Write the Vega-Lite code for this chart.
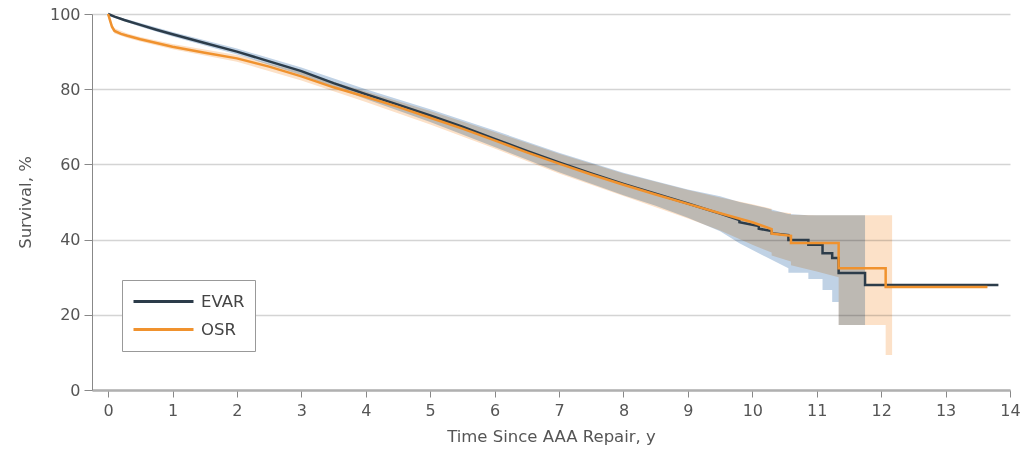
{
  "$schema": "https://vega.github.io/schema/vega-lite/v6.json",
  "width": 918,
  "height": 376,
  "autosize": "none",
  "padding": {"left": 92, "top": 14, "right": 12, "bottom": 62},
  "background": "white",
  "config": {
    "view": {"stroke": null},
    "font": "DejaVu Sans, sans-serif"
  },
  "datasets": {
    "curves": [
      {"group": "EVAR", "t": 0, "v": 100},
      {"group": "EVAR", "t": 0.1, "v": 99.3},
      {"group": "EVAR", "t": 0.25, "v": 98.4},
      {"group": "EVAR", "t": 0.5, "v": 97.1},
      {"group": "EVAR", "t": 0.75, "v": 95.8},
      {"group": "EVAR", "t": 1, "v": 94.6},
      {"group": "EVAR", "t": 1.5, "v": 92.3},
      {"group": "EVAR", "t": 2, "v": 90.0},
      {"group": "EVAR", "t": 2.5, "v": 87.4},
      {"group": "EVAR", "t": 3, "v": 84.8},
      {"group": "EVAR", "t": 3.5, "v": 81.6},
      {"group": "EVAR", "t": 4, "v": 78.7},
      {"group": "EVAR", "t": 4.5, "v": 75.9},
      {"group": "EVAR", "t": 5, "v": 73.0},
      {"group": "EVAR", "t": 5.5, "v": 70.0},
      {"group": "EVAR", "t": 6, "v": 66.8},
      {"group": "EVAR", "t": 6.5, "v": 63.6},
      {"group": "EVAR", "t": 7, "v": 60.5},
      {"group": "EVAR", "t": 7.5, "v": 57.6},
      {"group": "EVAR", "t": 8, "v": 54.8},
      {"group": "EVAR", "t": 8.5, "v": 52.2},
      {"group": "EVAR", "t": 9, "v": 49.6},
      {"group": "EVAR", "t": 9.5, "v": 46.9},
      {"group": "EVAR", "t": 9.8, "v": 45.2},
      {"group": "EVAR", "t": 9.8, "v": 44.6},
      {"group": "EVAR", "t": 10.1, "v": 43.6},
      {"group": "EVAR", "t": 10.1, "v": 42.9},
      {"group": "EVAR", "t": 10.3, "v": 42.3},
      {"group": "EVAR", "t": 10.3, "v": 41.7},
      {"group": "EVAR", "t": 10.56, "v": 41.2},
      {"group": "EVAR", "t": 10.56, "v": 39.9},
      {"group": "EVAR", "t": 10.87, "v": 39.9},
      {"group": "EVAR", "t": 10.87, "v": 38.6},
      {"group": "EVAR", "t": 11.09, "v": 38.6},
      {"group": "EVAR", "t": 11.09, "v": 36.4},
      {"group": "EVAR", "t": 11.24, "v": 36.4},
      {"group": "EVAR", "t": 11.24, "v": 35.1},
      {"group": "EVAR", "t": 11.34, "v": 35.1},
      {"group": "EVAR", "t": 11.34, "v": 31.1},
      {"group": "EVAR", "t": 11.75, "v": 31.1},
      {"group": "EVAR", "t": 11.75, "v": 27.9},
      {"group": "EVAR", "t": 13.82, "v": 27.9},
      {"group": "OSR", "t": 0, "v": 100},
      {"group": "OSR", "t": 0.03, "v": 98.3},
      {"group": "OSR", "t": 0.06, "v": 96.6},
      {"group": "OSR", "t": 0.1, "v": 95.5},
      {"group": "OSR", "t": 0.2, "v": 94.7},
      {"group": "OSR", "t": 0.3, "v": 94.2},
      {"group": "OSR", "t": 0.5, "v": 93.3},
      {"group": "OSR", "t": 1, "v": 91.3},
      {"group": "OSR", "t": 1.5, "v": 89.7},
      {"group": "OSR", "t": 2, "v": 88.2},
      {"group": "OSR", "t": 2.5, "v": 86.0},
      {"group": "OSR", "t": 3, "v": 83.4},
      {"group": "OSR", "t": 3.5, "v": 80.5},
      {"group": "OSR", "t": 4, "v": 78.0},
      {"group": "OSR", "t": 4.5, "v": 75.3},
      {"group": "OSR", "t": 5, "v": 72.4},
      {"group": "OSR", "t": 5.5, "v": 69.5},
      {"group": "OSR", "t": 6, "v": 66.4},
      {"group": "OSR", "t": 6.5, "v": 63.2},
      {"group": "OSR", "t": 7, "v": 60.2},
      {"group": "OSR", "t": 7.5, "v": 57.3},
      {"group": "OSR", "t": 8, "v": 54.6},
      {"group": "OSR", "t": 8.5, "v": 52.0},
      {"group": "OSR", "t": 9, "v": 49.5},
      {"group": "OSR", "t": 9.5, "v": 47.0},
      {"group": "OSR", "t": 10, "v": 44.6},
      {"group": "OSR", "t": 10.3, "v": 42.8},
      {"group": "OSR", "t": 10.3, "v": 41.6},
      {"group": "OSR", "t": 10.6, "v": 41.0},
      {"group": "OSR", "t": 10.6, "v": 39.1},
      {"group": "OSR", "t": 11.34, "v": 39.1},
      {"group": "OSR", "t": 11.34, "v": 32.4},
      {"group": "OSR", "t": 12.07, "v": 32.4},
      {"group": "OSR", "t": 12.07, "v": 27.4},
      {"group": "OSR", "t": 13.65, "v": 27.4}
    ],
    "bands": [
      {"group": "EVAR", "t": 0, "lo": 99.6, "hi": 100},
      {"group": "EVAR", "t": 0.5, "lo": 96.6, "hi": 97.6},
      {"group": "EVAR", "t": 1, "lo": 94.0, "hi": 95.2},
      {"group": "EVAR", "t": 2, "lo": 89.2, "hi": 90.8},
      {"group": "EVAR", "t": 3, "lo": 83.8, "hi": 85.8},
      {"group": "EVAR", "t": 4, "lo": 77.4, "hi": 80.0},
      {"group": "EVAR", "t": 5, "lo": 71.3, "hi": 74.7},
      {"group": "EVAR", "t": 6, "lo": 64.6, "hi": 69.0},
      {"group": "EVAR", "t": 7, "lo": 57.9, "hi": 63.1},
      {"group": "EVAR", "t": 8, "lo": 51.8, "hi": 57.8},
      {"group": "EVAR", "t": 8.5, "lo": 49.0, "hi": 55.5},
      {"group": "EVAR", "t": 9, "lo": 45.8, "hi": 53.3},
      {"group": "EVAR", "t": 9.5, "lo": 42.2, "hi": 51.5},
      {"group": "EVAR", "t": 9.8, "lo": 39.0, "hi": 50.0},
      {"group": "EVAR", "t": 10.2, "lo": 35.5, "hi": 48.5},
      {"group": "EVAR", "t": 10.56, "lo": 32.4, "hi": 46.8},
      {"group": "EVAR", "t": 10.56, "lo": 31.2, "hi": 46.8},
      {"group": "EVAR", "t": 10.87, "lo": 31.2, "hi": 46.5},
      {"group": "EVAR", "t": 10.87, "lo": 29.5, "hi": 46.5},
      {"group": "EVAR", "t": 11.09, "lo": 29.5, "hi": 46.5},
      {"group": "EVAR", "t": 11.09, "lo": 26.6, "hi": 46.5},
      {"group": "EVAR", "t": 11.24, "lo": 26.6, "hi": 46.5},
      {"group": "EVAR", "t": 11.24, "lo": 23.4, "hi": 46.5},
      {"group": "EVAR", "t": 11.34, "lo": 23.4, "hi": 46.5},
      {"group": "EVAR", "t": 11.34, "lo": 17.3, "hi": 46.5},
      {"group": "EVAR", "t": 11.75, "lo": 17.3, "hi": 46.5},
      {"group": "OSR", "t": 0, "lo": 99.2, "hi": 100},
      {"group": "OSR", "t": 0.06, "lo": 95.8, "hi": 97.4},
      {"group": "OSR", "t": 0.1, "lo": 94.8, "hi": 96.2},
      {"group": "OSR", "t": 0.3, "lo": 93.6, "hi": 94.8},
      {"group": "OSR", "t": 0.5, "lo": 92.7, "hi": 93.9},
      {"group": "OSR", "t": 1, "lo": 90.6, "hi": 92.0},
      {"group": "OSR", "t": 2, "lo": 87.3, "hi": 89.1},
      {"group": "OSR", "t": 3, "lo": 82.3, "hi": 84.5},
      {"group": "OSR", "t": 4, "lo": 76.6, "hi": 79.4},
      {"group": "OSR", "t": 5, "lo": 70.6, "hi": 74.2},
      {"group": "OSR", "t": 6, "lo": 64.2, "hi": 68.6},
      {"group": "OSR", "t": 7, "lo": 57.6, "hi": 62.8},
      {"group": "OSR", "t": 8, "lo": 51.6, "hi": 57.6},
      {"group": "OSR", "t": 9, "lo": 45.6, "hi": 53.2},
      {"group": "OSR", "t": 9.5, "lo": 42.4, "hi": 51.2},
      {"group": "OSR", "t": 10, "lo": 38.6, "hi": 49.4},
      {"group": "OSR", "t": 10.3, "lo": 36.6, "hi": 48.2},
      {"group": "OSR", "t": 10.3, "lo": 35.8, "hi": 47.6},
      {"group": "OSR", "t": 10.6, "lo": 34.2, "hi": 47.0},
      {"group": "OSR", "t": 10.6, "lo": 33.2, "hi": 46.6},
      {"group": "OSR", "t": 11.0, "lo": 31.5, "hi": 46.5},
      {"group": "OSR", "t": 11.34, "lo": 30.0, "hi": 46.5},
      {"group": "OSR", "t": 11.34, "lo": 17.3, "hi": 46.5},
      {"group": "OSR", "t": 12.07, "lo": 17.3, "hi": 46.5},
      {"group": "OSR", "t": 12.07, "lo": 9.3, "hi": 46.5},
      {"group": "OSR", "t": 12.17, "lo": 9.3, "hi": 46.5}
    ]
  },
  "encoding": {
    "x": {
      "field": "t",
      "type": "quantitative",
      "scale": {"domain": [-0.25, 14], "nice": false, "zero": false},
      "axis": {
        "title": "Time Since AAA Repair, y",
        "values": [0, 1, 2, 3, 4, 5, 6, 7, 8, 9, 10, 11, 12, 13, 14],
        "format": "d",
        "grid": false,
        "domainColor": "#b0b0b0",
        "domainWidth": 2.5,
        "tickColor": "#888888",
        "tickSize": 7,
        "tickWidth": 1,
        "labelFontSize": 16,
        "labelColor": "#555555",
        "labelPadding": 5,
        "labelFlush": false,
        "titleFontSize": 16.5,
        "titleFontWeight": "normal",
        "titleColor": "#555555",
        "titlePadding": 10
      }
    }
  },
  "layer": [
    {
      "data": {"name": "bands"},
      "mark": {"type": "area", "blend": "multiply", "interpolate": "linear"},
      "encoding": {
        "y": {"field": "lo", "type": "quantitative"},
        "y2": {"field": "hi"},
        "color": {
          "field": "group",
          "type": "nominal",
          "scale": {"domain": ["EVAR", "OSR"], "range": ["#c0d2e5", "#fce1c8"]},
          "legend": null
        },
        "detail": {"field": "group"}
      }
    },
    {
      "data": {"name": "curves"},
      "mark": {"type": "line", "strokeWidth": 2.5, "interpolate": "linear"},
      "encoding": {
        "y": {
          "field": "v",
          "type": "quantitative",
          "scale": {"domain": [0, 100], "nice": false},
          "axis": {
            "title": "Survival, %",
            "values": [0, 20, 40, 60, 80, 100],
            "grid": true,
            "gridColor": "#d4d4d4",
            "gridWidth": 1.5,
            "domainColor": "#888888",
            "domainWidth": 1,
            "tickColor": "#888888",
            "tickSize": 8,
            "labelFontSize": 16,
            "labelColor": "#555555",
            "labelPadding": 4,
            "titleFontSize": 16.5,
            "titleFontWeight": "normal",
            "titleColor": "#555555",
            "titlePadding": 16
          }
        },
        "color": {
          "field": "group",
          "type": "nominal",
          "scale": {"domain": ["EVAR", "OSR"], "range": ["#2c3c4a", "#f0922e"]},
          "legend": {
            "title": null,
            "orient": "none",
            "legendX": 30,
            "legendY": 266,
            "symbolType": "stroke",
            "symbolSize": 3600,
            "symbolStrokeWidth": 3,
            "clipHeight": 23,
            "rowPadding": 5,
            "labelOffset": 6,
            "labelFontSize": 16.5,
            "labelColor": "#444444",
            "padding": 10,
            "strokeColor": "#999999",
            "fillColor": "white"
          }
        },
        "order": {"value": null},
        "zindex": {"value": 1}
      }
    }
  ],
  "resolve": {"scale": {"color": "independent"}}
}
